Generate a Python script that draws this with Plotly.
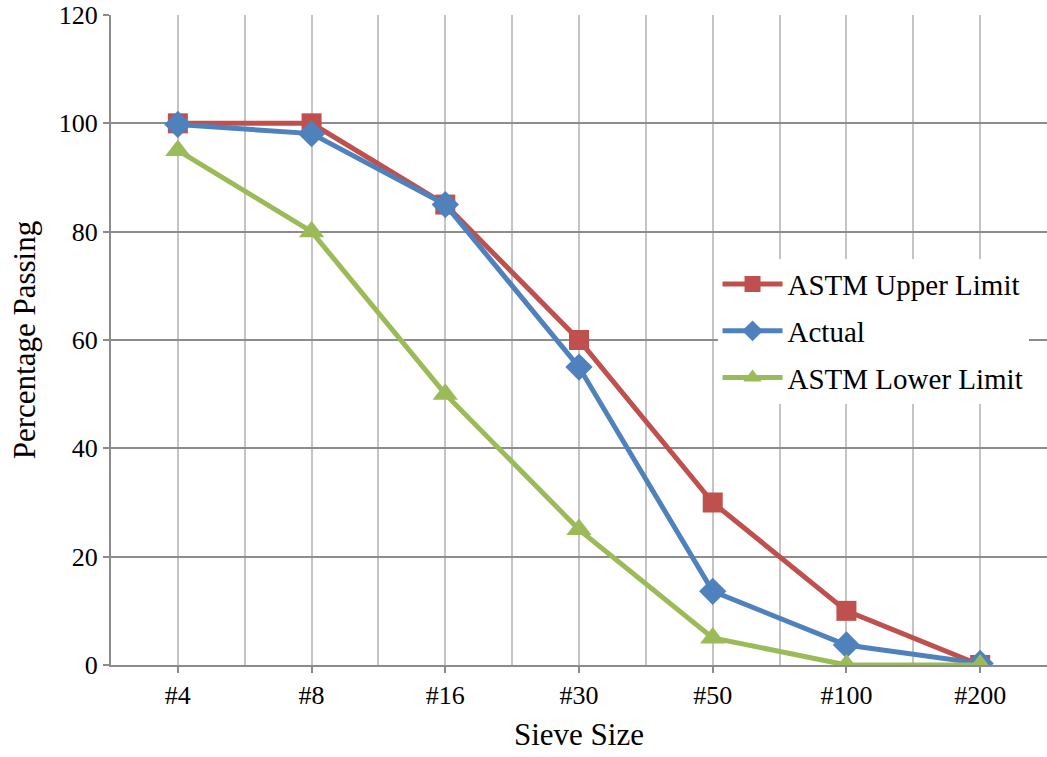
import plotly.graph_objects as go

# Sieve gradation data
sieves = ["#4", "#8", "#16", "#30", "#50", "#100", "#200"]
upper_limit = [100, 100, 85, 60, 30, 10, 0]
actual = [99.8, 98.1, 85, 55, 13.6, 3.7, 0.3]
lower_limit = [95, 80, 50, 25, 5, 0, 0]
y_ticks = [0, 20, 40, 60, 80, 100, 120]

positions = list(range(len(sieves)))

RED = "#C0504D"
BLUE = "#4F81BD"
GREEN = "#9BBB59"
FONT = "Liberation Serif"

fig = go.Figure()
fig.add_trace(go.Scatter(
    x=positions, y=upper_limit, name="ASTM Upper Limit", mode="lines+markers",
    legendgroup="upper",
    line=dict(color=RED, width=5),
    marker=dict(symbol="square", size=20, color=RED),
))
fig.add_trace(go.Scatter(
    x=positions, y=actual, name="Actual", mode="lines+markers",
    legendgroup="actual",
    line=dict(color=BLUE, width=5),
    marker=dict(symbol="diamond", size=21, color=BLUE),
))
fig.add_trace(go.Scatter(
    x=positions, y=lower_limit, name="ASTM Lower Limit", mode="lines+markers",
    legendgroup="lower",
    line=dict(color=GREEN, width=5),
    marker=dict(symbol="triangle-up", size=22, color=GREEN),
))

fig.update_layout(
    width=1047, height=757,
    margin=dict(l=111, r=0, t=15, b=92),
    paper_bgcolor="white", plot_bgcolor="white",
    font=dict(family=FONT, color="black", size=26),
    showlegend=True,
    legend=dict(
        x=0.648, y=0.625, xanchor="left", yanchor="top",
        bgcolor="white", font=dict(size=29, family=FONT),
        itemwidth=60, tracegroupgap=6,
    ),
    xaxis=dict(
        range=[-0.5, len(sieves) - 0.5],
        tickmode="array", tickvals=positions, ticktext=sieves,
        showgrid=True, gridcolor="#C4C4C4", gridwidth=2,
        minor=dict(tickmode="linear", tick0=0.5, dtick=1, showgrid=True,
                   gridcolor="#C4C4C4", gridwidth=2),
        showline=True, linecolor="#8C8C8C", linewidth=2,
        ticks="outside", ticklen=6, tickcolor="#8C8C8C", tickwidth=2,
        tickfont=dict(size=26, family=FONT),
        zeroline=False,
        title=dict(text="Sieve Size", font=dict(size=31, family=FONT), standoff=14),
    ),
    yaxis=dict(
        range=[0, 120],
        tickmode="array", tickvals=y_ticks,
        showgrid=True, gridcolor="#8C8C8C", gridwidth=2,
        showline=True, linecolor="#8C8C8C", linewidth=2,
        ticks="outside", ticklen=6, tickcolor="#8C8C8C", tickwidth=2,
        tickfont=dict(size=26, family=FONT),
        zeroline=False,
        title=dict(text="Percentage Passing", font=dict(size=31, family=FONT), standoff=14),
    ),
)

fig.write_html("out.html")
